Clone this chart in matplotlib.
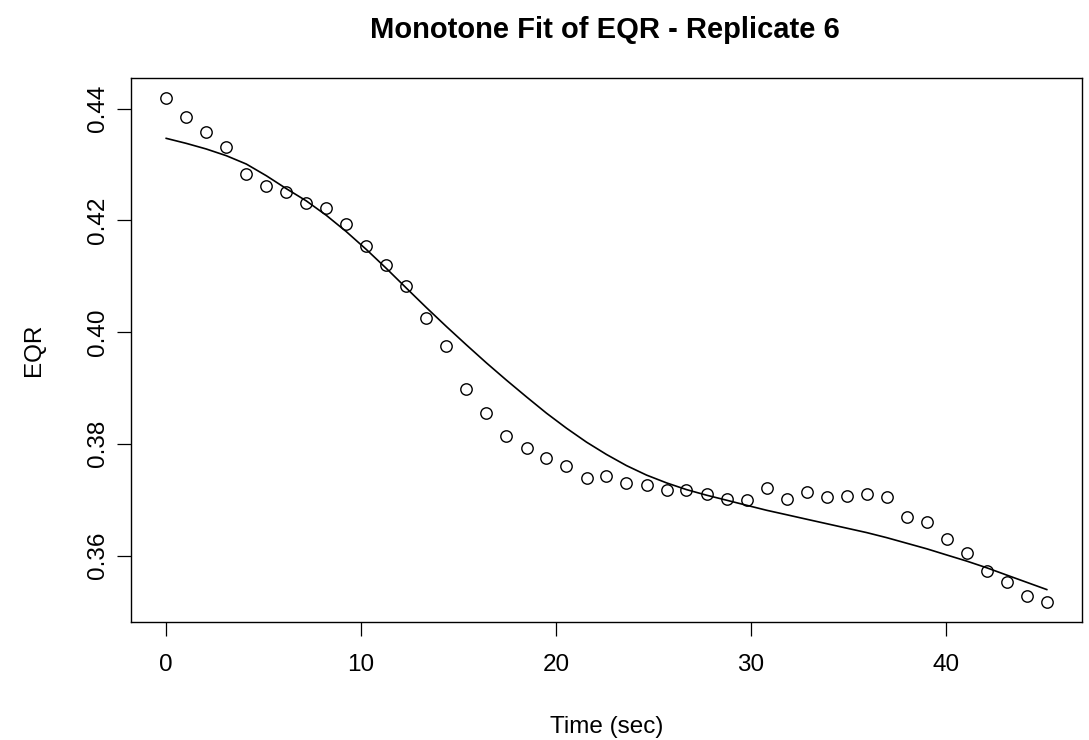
import numpy as np
import matplotlib
matplotlib.use("Agg")
import matplotlib.pyplot as plt

plt.rcParams['font.family'] = ['Liberation Sans', 'DejaVu Sans']

# time points (sec)
time_sec = [0.00, 1.03, 2.05, 3.08, 4.11, 5.14, 6.16, 7.19, 8.22, 9.24,
            10.27, 11.30, 12.32, 13.35, 14.38, 15.41, 16.43, 17.46, 18.49, 19.51,
            20.54, 21.57, 22.59, 23.62, 24.65, 25.68, 26.70, 27.73, 28.76, 29.78,
            30.81, 31.84, 32.86, 33.89, 34.92, 35.95, 36.97, 38.00, 39.03, 40.05,
            41.08, 42.11, 43.13, 44.16, 45.19]

# observed EQR
eqr_obs = [0.4419, 0.4386, 0.4358, 0.4331, 0.4283, 0.4262, 0.4251, 0.4232, 0.4223, 0.4193,
           0.4154, 0.4121, 0.4082, 0.4025, 0.3975, 0.3898, 0.3856, 0.3814, 0.3793, 0.3774,
           0.3760, 0.3738, 0.3742, 0.3729, 0.3726, 0.3717, 0.3718, 0.3710, 0.3702, 0.3700,
           0.3721, 0.3702, 0.3713, 0.3705, 0.3707, 0.3711, 0.3705, 0.3669, 0.3660, 0.3630,
           0.3605, 0.3572, 0.3553, 0.3528, 0.3517]

# monotone fit
eqr_fit = [0.4347, 0.4338, 0.4328, 0.4316, 0.4301, 0.4280, 0.4257, 0.4235, 0.4209, 0.4180,
           0.4148, 0.4114, 0.4079, 0.4044, 0.4010, 0.3977, 0.3945, 0.3914, 0.3884, 0.3855,
           0.3828, 0.3803, 0.3781, 0.3761, 0.3744, 0.3730, 0.3718, 0.3708, 0.3699, 0.3690,
           0.3681, 0.3673, 0.3665, 0.3657, 0.3649, 0.3641, 0.3632, 0.3622, 0.3612, 0.3601,
           0.3590, 0.3578, 0.3565, 0.3552, 0.3539]

xticks = [0, 10, 20, 30, 40]
yticks = [0.36, 0.38, 0.40, 0.42, 0.44]

fig = plt.figure(figsize=(10.89, 7.40), dpi=100)
ax = fig.add_axes([131 / 1089, 118 / 740, 951 / 1089, 544 / 740])

ax.plot(time_sec, eqr_obs, 'o', mfc='none', mec='black', ms=8.2, mew=1.0)
ax.plot(time_sec, eqr_fit, '-', color='black', lw=1.2)

# R style 4% padding
xr = max(time_sec) - min(time_sec)
yr = max(eqr_obs) - min(eqr_obs)
ax.set_xlim(min(time_sec) - 0.04 * xr, max(time_sec) + 0.04 * xr)
ax.set_ylim(min(eqr_obs) - 0.04 * yr, max(eqr_obs) + 0.04 * yr)

ax.set_xticks(xticks)
ax.set_xticklabels([str(v) for v in xticks])
ax.set_yticks(yticks)
ax.set_yticklabels(["%.2f" % v for v in yticks], rotation=90, va='center')

ax.tick_params(direction='out', length=10, width=0.9, labelsize=17.5, colors='black')
ax.tick_params(axis='x', pad=13)
ax.tick_params(axis='y', pad=6)
for s in ax.spines.values():
    s.set_linewidth(1.0)
    s.set_color('black')

ax.set_xlabel("Time (sec)", fontsize=17.5, labelpad=29)
ax.set_ylabel("EQR", fontsize=17.5, labelpad=30)
fig.suptitle("Monotone Fit of EQR - Replicate 6", fontsize=21, fontweight='bold', y=0.978, x=0.555)

fig.savefig("out.png", dpi=100)
